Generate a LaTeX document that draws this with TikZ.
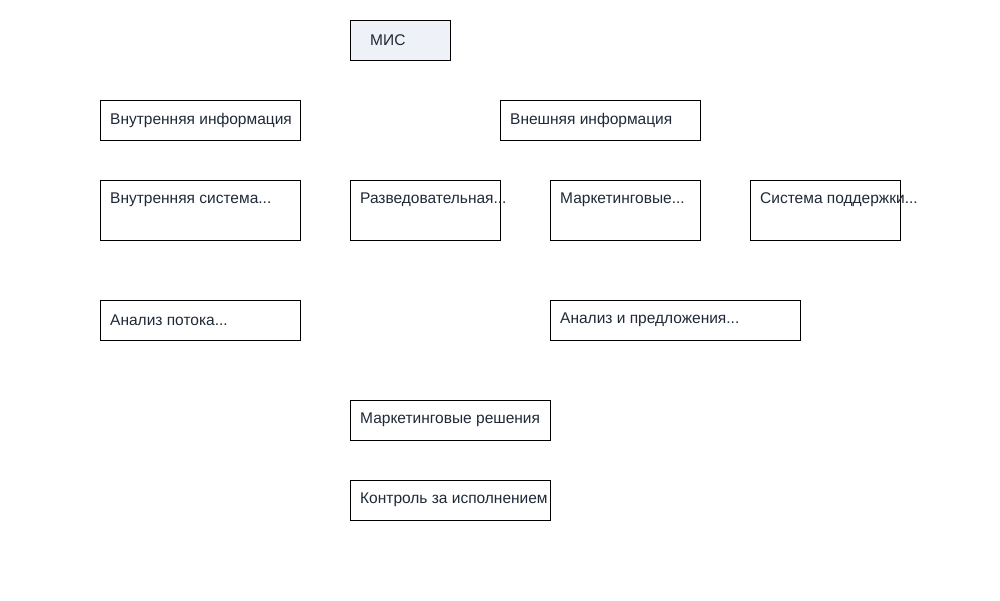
\documentclass[tikz,border=0pt]{standalone}
\usepackage{fontspec}
\setmainfont{Liberation Sans}
\definecolor{txt}{HTML}{1F2937}
\definecolor{mis}{HTML}{EEF2F8}
\begin{document}
\begin{tikzpicture}[x=1pt,y=-1pt,
  box/.style={draw=black,line width=0.8pt},
  lbl/.style={anchor=west,inner sep=0pt,text=txt,font=\fontsize{15.5}{18}\selectfont}]
\useasboundingbox (0,0) rectangle (1000,600);
\newcommand{\mybox}[6]{% name, x1,y1,x2,y2, text
  \draw[box,#6] (#2,#3) rectangle (#4,#5);}
\draw[box,fill=mis] (350,20) rectangle (450,60); \node[lbl] (mis) at (370,40) {МИС};
\draw[box] (100,100) rectangle (300,140); \node[lbl] (vi) at (110,120) {Внутренняя информация};
\draw[box] (500,100) rectangle (700,140); \node[lbl] (ve) at (510,120) {Внешняя информация};
\draw[box] (100,180) rectangle (300,240); \node[lbl] (vs) at (110,200) {Внутренняя система...};
\draw[box] (350,180) rectangle (500,240); \node[lbl] (rz) at (360,200) {Разведовательная...};
\draw[box] (550,180) rectangle (700,240); \node[lbl] (mk) at (560,200) {Маркетинговые...};
\draw[box] (750,180) rectangle (900,240); \node[lbl] (sp) at (760,200) {Система поддержки...};
\draw[box] (100,300) rectangle (300,340); \node[lbl] (ap) at (110,320) {Анализ потока...};
\draw[box] (550,300) rectangle (800,340); \node[lbl] (ai) at (560,320) {Анализ и предложения...};
\draw[box] (350,400) rectangle (550,440); \node[lbl] (mr) at (360,420) {Маркетинговые решения};
\draw[box] (350,480) rectangle (550,520); \node[lbl] (ki) at (360,500) {Контроль за исполнением};
\end{tikzpicture}
\end{document}
